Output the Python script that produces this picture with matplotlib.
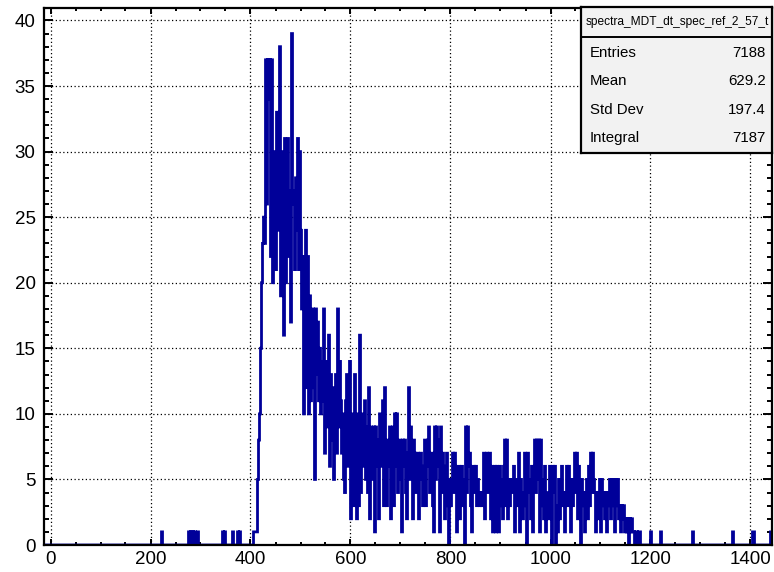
import numpy as np
import matplotlib
matplotlib.use("Agg")
import matplotlib.pyplot as plt
from matplotlib.ticker import MultipleLocator

# ---------------- data ----------------
bin_width = 2
x_low, x_high = -12, 1442
main_start = 400
main_counts = [
    0, 0, 0, 1, 1, 1, 1, 5, 8, 10,          # 400-418
    15, 20, 23, 25, 23, 37, 26, 37, 34, 37,  # 420-438
    22, 37, 20, 30, 25, 21, 33, 24, 28, 38,  # 440-458
    19, 29, 30, 16, 31, 20, 28, 31, 22, 27,  # 460-478
    17, 39, 27, 26, 21, 28, 24, 31, 21, 30,  # 480-498
    24, 18, 22, 10, 22, 24, 12, 22, 10, 19,  # 500-518
    11, 17, 18, 12, 5, 18, 13, 17, 11, 15,   # 520-538
    10, 14, 11, 18, 7, 14, 9, 12, 16, 6,     # 540-558
    13, 8, 12, 5, 11, 13, 7, 18, 9, 14,      # 560-578
    11, 7, 10, 5, 4, 11, 13, 6, 10, 14,      # 580-598
    2, 9, 10, 3, 13, 5, 2, 10, 3, 16,        # 600-618
    4, 8, 10, 6, 11, 5, 9, 4, 12, 2,         # 620-638
    9, 5, 7, 9, 1, 9, 6, 8, 2, 10,           # 640-658
    6, 8, 11, 3, 12, 5, 3, 8, 6, 9,          # 660-678
    2, 7, 9, 3, 10, 6, 10, 4, 8, 8,          # 680-698
    5, 1, 8, 6, 8, 4, 2, 7, 12, 5,           # 700-718
    9, 7, 2, 8, 7, 4, 6, 7, 2, 5,            # 720-738
    7, 6, 3, 5, 8, 3, 6, 8, 9, 4,            # 740-758
    6, 7, 3, 1, 9, 5, 9, 6, 8, 1,            # 760-778
    9, 4, 7, 6, 2, 5, 7, 3, 0, 5,            # 780-798
    3, 5, 7, 4, 7, 5, 1, 6, 6, 2,            # 800-818
    5, 6, 3, 5, 0, 9, 4, 9, 6, 7,            # 820-838
    3, 1, 6, 6, 4, 6, 3, 5, 4, 3,            # 840-858
    4, 3, 4, 7, 2, 6, 7, 4, 5, 7,            # 860-878
    2, 6, 1, 5, 6, 1, 6, 4, 1, 6,            # 880-898
    3, 5, 2, 6, 8, 3, 8, 2, 5, 3,            # 900-918
    5, 4, 5, 6, 1, 4, 5, 3, 7, 1,            # 920-938
    5, 4, 2, 4, 7, 3, 0, 7, 4, 5,            # 940-958
    2, 6, 1, 5, 8, 4, 8, 5, 8, 1,            # 960-978
    8, 3, 5, 2, 6, 1, 4, 4, 2, 6,            # 980-998
    3, 0, 6, 4, 6, 0, 3, 1, 5, 2,            # 1000-1018
    5, 6, 3, 4, 1, 4, 6, 3, 6, 5,            # 1020-1038
    1, 5, 3, 5, 7, 4, 7, 2, 6, 5,            # 1040-1058
    0, 5, 3, 4, 1, 4, 5, 2, 6, 3,            # 1060-1078
    7, 4, 7, 5, 4, 1, 4, 2, 4, 5,            # 1080-1098
    1, 5, 3, 4, 2, 4, 1, 4, 3, 5,            # 1100-1118
    2, 5, 3, 5, 1, 5, 3, 5, 2, 3,            # 1120-1138
    1, 3, 2, 3, 1, 2, 1, 2, 0, 2,            # 1140-1158
    1, 2, 1, 1, 0, 1, 1, 0, 1, 1,            # 1160-1178
]
sparse_bins = [222, 276, 280, 284, 288, 294, 344, 348, 364, 374, 378,
               1200, 1220, 1284, 1364, 1404, 1406, 1440]
sparse_counts = [1, 1, 1, 1, 1, 1, 1, 1, 1, 1, 1,
                 1, 1, 1, 1, 1, 1, 1]

xticks = [0, 200, 400, 600, 800, 1000, 1200, 1400]
yticks = [0, 5, 10, 15, 20, 25, 30, 35, 40]

stats_title = "spectra_MDT_dt_spec_ref_2_57_t"
stats_labels = ["Entries", "Mean", "Std Dev", "Integral"]
stats_values = ["7188", "629.2", "197.4", "7187"]

# ---------------- build histogram ----------------
edges = np.arange(x_low, x_high + bin_width, bin_width)
counts = np.zeros(len(edges) - 1)
i0 = (main_start - x_low) // bin_width
counts[i0:i0 + len(main_counts)] = main_counts
for b, c in zip(sparse_bins, sparse_counts):
    counts[(b - x_low) // bin_width] = c

plt.rcParams['font.family'] = ['Liberation Sans', 'DejaVu Sans']

W, H = 774, 572
fig = plt.figure(figsize=(W / 100, H / 100), dpi=100)
fig.patch.set_facecolor('white')

L, R, T, B = 44, 772, 8, 545
ax = fig.add_axes([L / W, 1 - B / H, (R - L) / W, (B - T) / H])
ax.stairs(counts, edges, color='#000099', linewidth=2.0, zorder=3)

ax.set_xlim(-13, 1443)
ax.set_ylim(0, 40.95)
ax.set_xticks(xticks)
ax.set_yticks(yticks)
ax.xaxis.set_minor_locator(MultipleLocator(50))
ax.yaxis.set_minor_locator(MultipleLocator(1))
ax.tick_params(which='both', direction='in', top=True, right=True,
               labelsize=13.5, width=1.4, colors='black')
ax.tick_params(axis='y', which='major', length=6.5, pad=6)
ax.tick_params(axis='y', which='minor', length=3.5)
ax.tick_params(axis='x', which='major', length=4.5, pad=4)
ax.tick_params(axis='x', which='minor', length=2.5)
for s in ax.spines.values():
    s.set_linewidth(1.6)
    s.set_zorder(5)
ax.grid(True, which='major', color='black', linestyle=(0, (1, 2)),
        linewidth=0.9, zorder=1)
ax.set_axisbelow(True)

# ---------------- stats box ----------------
bx0, bx1, by0, by1 = 581, 772, 7, 153
sax = fig.add_axes([bx0 / W, 1 - by1 / H, (bx1 - bx0) / W, (by1 - by0) / H])
sax.set_facecolor('#f2f2f2')
sax.set_xlim(0, 1)
sax.set_ylim(0, 1)
sax.set_xticks([])
sax.set_yticks([])
for s in sax.spines.values():
    s.set_linewidth(1.6)
sep = (by1 - 37) / (by1 - by0)
sax.axhline(sep, color='black', linewidth=1.4)
sax.text((586 - bx0) / (bx1 - bx0), (by1 - 22) / (by1 - by0), stats_title,
         fontsize=8.6, ha='left', va='center')
rows_y = [53, 81, 110, 138]
for lab, val, yy in zip(stats_labels, stats_values, rows_y):
    fy = (by1 - yy) / (by1 - by0)
    sax.text((590 - bx0) / (bx1 - bx0), fy, lab, fontsize=10.8,
             ha='left', va='center')
    sax.text((766 - bx0) / (bx1 - bx0), fy, val, fontsize=10.8,
             ha='right', va='center')

fig.savefig('out.png', dpi=100)
